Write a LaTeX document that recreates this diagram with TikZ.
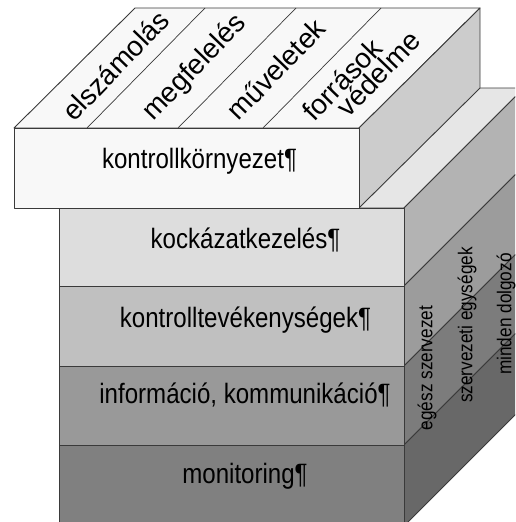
\documentclass[tikz,border=0pt]{standalone}
\usepackage{fontspec}
\setmainfont{Liberation Sans}[FakeStretch=0.86]
\newfontfamily\topfont{Liberation Sans}
\definecolor{topwhite}{HTML}{F8F8F8}
\definecolor{topside}{HTML}{CCCCCC}
\definecolor{lowtop}{HTML}{E6E6E6}
\definecolor{fa}{HTML}{DDDDDD}
\definecolor{fb}{HTML}{C0C0C0}
\definecolor{fc}{HTML}{999999}
\definecolor{fd}{HTML}{808080}
\definecolor{sa}{HTML}{B3B3B3}
\definecolor{sb}{HTML}{9C9C9C}
\definecolor{sc}{HTML}{7C7C7C}
\definecolor{sd}{HTML}{686868}
\definecolor{edgecol}{HTML}{3A3A3A}
\begin{document}
\begin{tikzpicture}[x=1pt,y=-1pt,line join=round,
  edge/.style={draw=edgecol,line width=0.9pt},
  lbl/.style={font=\fontsize{28}{30}\selectfont,inner sep=0pt,anchor=base},
  toplbl/.style={font=\topfont\fontsize{28}{30}\selectfont,rotate=46,inner sep=0pt},
  sidelbl/.style={font=\fontsize{20}{22}\selectfont,rotate=90,inner sep=0pt}]
\useasboundingbox (0,0) rectangle (515,522);
\clip (0,0) rectangle (515,522);
% ---- lower block ----
\filldraw[edge,fill=lowtop] (59,208) -- (404,208) -- (524,88) -- (179,88) -- cycle;
\filldraw[edge,fill=sa] (404,208) -- (524,88) -- (524,166) -- (404,286) -- cycle;
\filldraw[edge,fill=sb] (404,286) -- (524,166) -- (524,246) -- (404,366) -- cycle;
\filldraw[edge,fill=sc] (404,366) -- (524,246) -- (524,325) -- (404,445) -- cycle;
\filldraw[edge,fill=sd] (404,445) -- (524,325) -- (524,406) -- (404,526) -- cycle;
\filldraw[edge,fill=fa] (59,208) rectangle (404,286);
\filldraw[edge,fill=fb] (59,286) rectangle (404,366);
\filldraw[edge,fill=fc] (59,366) rectangle (404,445);
\filldraw[edge,fill=fd] (59,445) rectangle (404,526);
% ---- top block ----
\filldraw[edge,fill=topwhite] (14,128) -- (359,128) -- (480,8) -- (135,8) -- cycle;
\filldraw[edge,fill=topside] (359,128) -- (480,8) -- (480,88) -- (359,208) -- cycle;
\draw[edge,line width=0.7pt] (87,128) -- (205,8);
\draw[edge,line width=0.7pt] (178,128) -- (296,8);
\draw[edge,line width=0.7pt] (263,128) -- (381,8);
\filldraw[edge,fill=topwhite] (14,128) rectangle (359,208);
% ---- texts ----
\node[lbl] (kk) at (199.5,168) {kontrollkörnyezet¶};
\node[lbl] (kock) at (245.5,248) {kockázatkezelés¶};
\node[lbl] (kt) at (245.5,327) {kontrolltevékenységek¶};
\node[lbl] (ik) at (245,403) {információ, kommunikáció¶};
\node[lbl] (mon) at (245,483) {monitoring¶};
\node[toplbl] (t1) at (115.5,65.5) {elszámolás};
\node[toplbl] (t2) at (195,68) {megfelelés};
\node[toplbl] (t3) at (276,69) {műveletek};
\node[toplbl] (t4a) at (342,79.5) {források};
\node[toplbl] (t4b) at (378,73.5) {védelme};
\node[sidelbl] (s1) at (427,368) {egész szervezet};
\node[sidelbl] (s2) at (467,325) {szervezeti egységek};
\node[sidelbl] (s3) at (506,314) {minden dolgozó};
\end{tikzpicture}
\end{document}
